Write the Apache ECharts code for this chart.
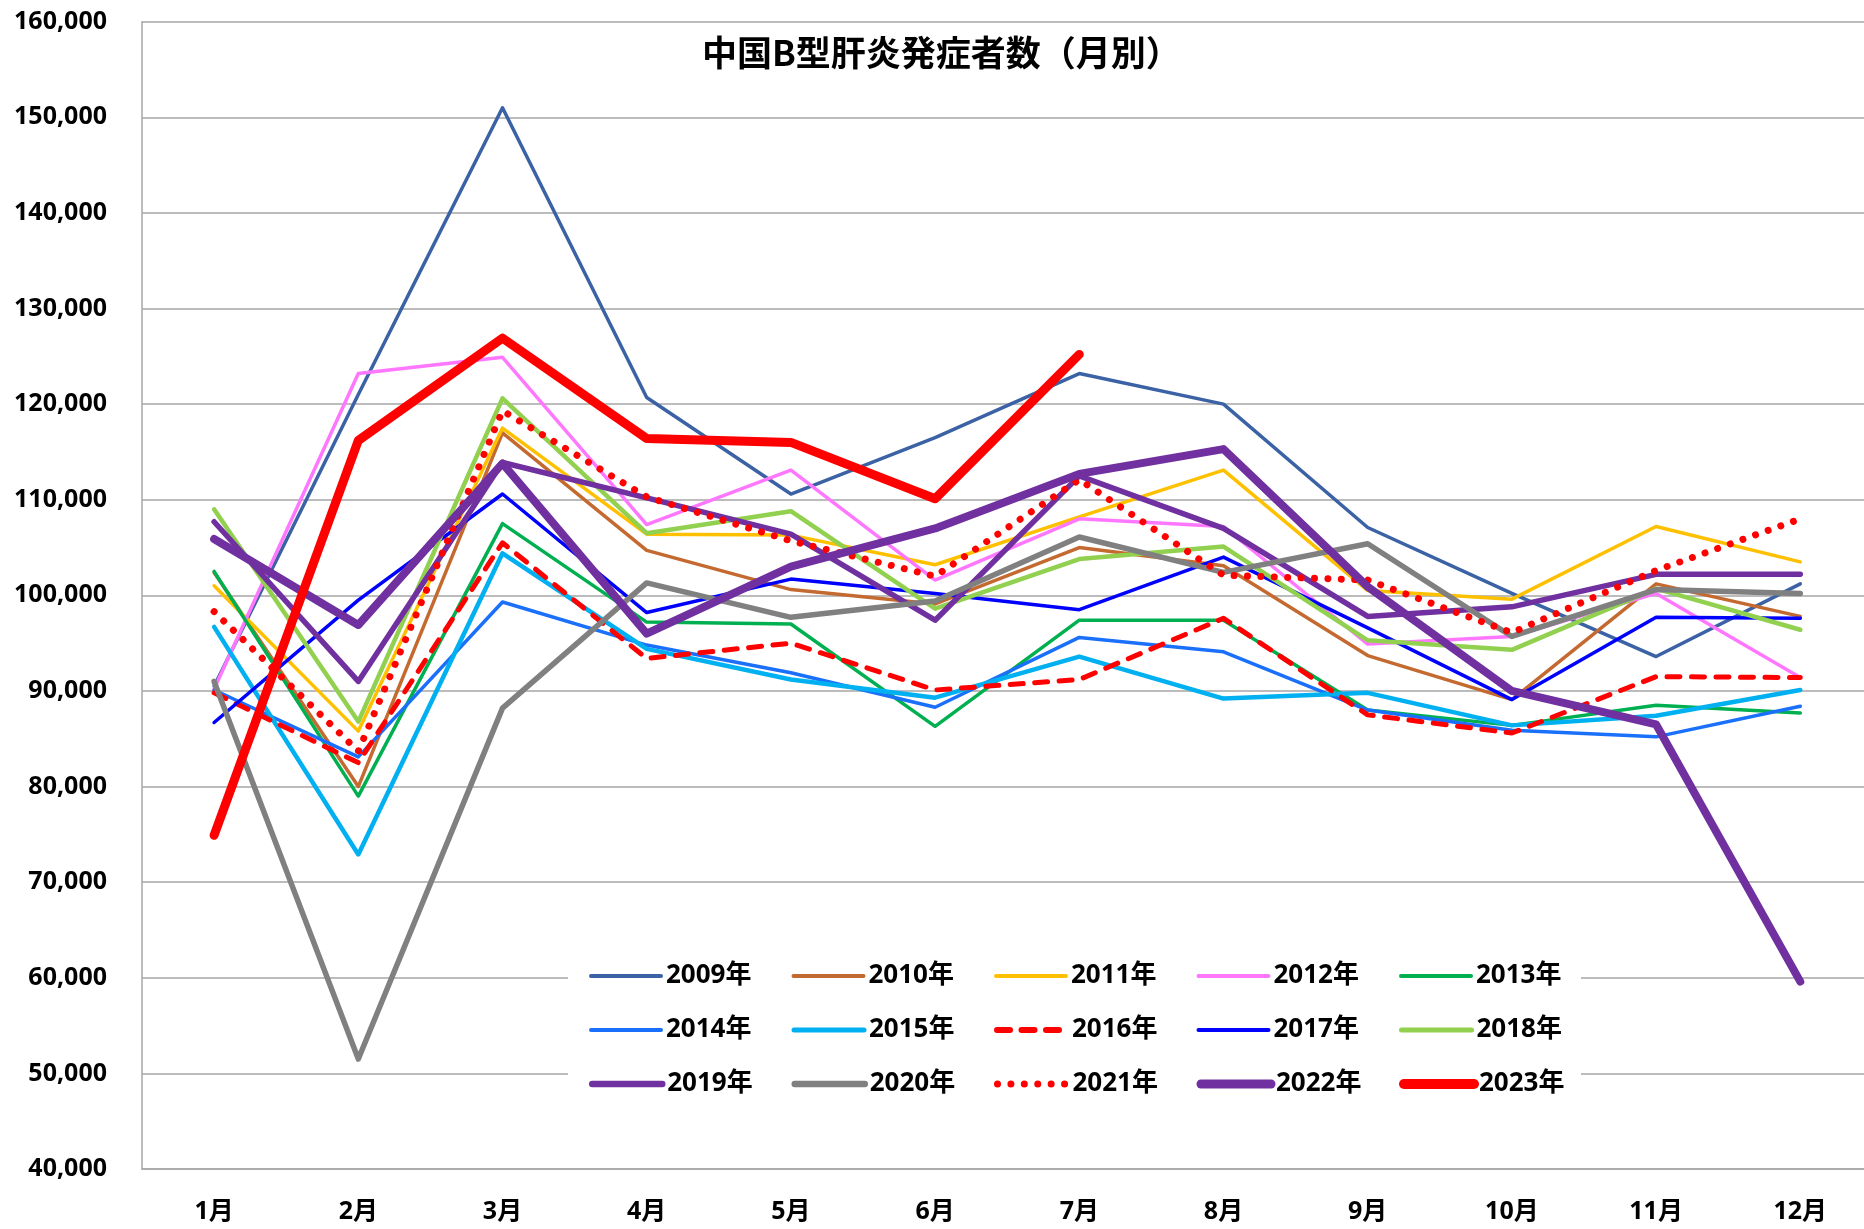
<!DOCTYPE html>
<html><head><meta charset="utf-8">
<script src="https://cdn.jsdelivr.net/npm/echarts@6/dist/echarts.min.js"></script>
<style>html,body{margin:0;padding:0;background:#fff}#c{width:1864px;height:1229px}</style>
</head><body><div id="c"></div>
<script>
const months = ['1月','2月','3月','4月','5月','6月','7月','8月','9月','10月','11月','12月'];
const years = ['2009年','2010年','2011年','2012年','2013年','2014年','2015年','2016年','2017年','2018年','2019年','2020年','2021年','2022年','2023年'];
const y2009 = [90500,121000,151000,120700,110600,116500,123200,120000,107100,100200,93600,101200];
const y2010 = [102400,80000,117000,104700,100600,99100,105000,103100,93700,89100,101200,97800];
const y2011 = [101000,85800,117500,106400,106300,103200,108200,113100,100500,99600,107200,103500];
const y2012 = [90200,123200,124900,107400,113100,101600,108000,107200,94900,95700,100200,91400];
const y2013 = [102500,79000,107500,97200,97000,86300,97400,97400,88000,86400,88500,87700];
const y2014 = [90100,83100,99300,94800,91900,88300,95600,94100,88000,85900,85200,88400];
const y2015 = [96700,72900,104400,94400,91200,89300,93600,89200,89800,86400,87400,90100];
const y2016 = [89800,82500,105500,93400,95000,90100,91200,97600,87500,85600,91500,91400];
const y2017 = [86700,99500,110600,98200,101700,100200,98500,104000,96600,89100,97700,97600];
const y2018 = [109000,86800,120600,106500,108800,98600,103800,105100,95300,94300,100700,96400];
const y2019 = [107700,91000,113900,110200,106400,97400,112500,107000,97800,98800,102200,102200];
const y2020 = [91000,51500,88200,101300,97700,99400,106100,102400,105400,95700,100600,100200];
const y2021 = [98300,83700,119300,110300,105700,102000,112100,102100,101600,96100,102600,108000];
const y2022 = [105900,96900,113800,96000,103000,107000,112700,115300,100900,90000,86500,59600];
const y2023 = [74900,116200,126900,116400,116000,110100,125200];
const yTicks = [40000,50000,60000,70000,80000,90000,100000,110000,120000,130000,140000,150000,160000];

const allData = [y2009,y2010,y2011,y2012,y2013,y2014,y2015,y2016,y2017,y2018,y2019,y2020,y2021,y2022,y2023];
const colors = ['#3B62A4','#C46A30','#FFC000','#FF77FF','#00B050','#1A70FA','#00B0F0','#FF0000','#0000FF','#92D050','#7030A0','#808080','#FF0000','#7030A0','#FF0000'];
const widths = [3.5,3.5,3.5,3.5,3.5,3.5,4.5,5,3.5,4.5,5.5,5.5,7,8,9];
const legendWidths = [4,4,4,4,4,4,5,6,4,5,6.5,6.5,7,9,10];
const types = ['solid','solid','solid','solid','solid','solid','solid',[13,11.5],'solid','solid','solid','solid',[0.01,13.4],'solid','solid'];

// month positions on a numeric x axis: month k sits at k (1..12); the plot spans 0.5 .. 12.44
const monthPos = months.map((m,k)=>k+1);
const GRID_LEFT = 142, GRID_W = 1722, CAT_W = 144.2;
const xMax = 0.5 + GRID_W / CAT_W;

const FONT = "'Noto Sans','Noto Sans CJK JP',sans-serif";
const series = years.map((n,i)=>({
  name:n, type:'line', data:allData[i].map((v,k)=>[monthPos[k], v]), symbol:'none', smooth:false,
  lineStyle:{color:colors[i], width:widths[i], type:types[i], cap:'round', join:'round'},
  itemStyle:{color:colors[i]},
  emphasis:{disabled:true}, animation:false
}));

const rowCenters = [976, 1030, 1084];
const legends = years.map((n,i)=>{
  const r = Math.floor(i/5), c = i%5;
  return {
    data:[{name:n, lineStyle:{width:legendWidths[i], color:colors[i], type:types[i], cap:'round'}}],
    left:589 + 202.5*c, top:rowCenters[r]-15, orient:'horizontal', padding:0,
    itemWidth:70, itemHeight:14, z:5,
    itemStyle:{color:'rgba(0,0,0,0)', borderWidth:0, opacity:0},
    textStyle:{fontFamily:FONT, fontWeight:'bold', fontSize:26, color:'#000', lineHeight:30},
    selectedMode:false
  };
});

const chart = echarts.init(document.getElementById('c'));
chart.setOption({
  backgroundColor:'#fff',
  animation:false,
  title:{text:'中国B型肝炎発症者数（月別）', left:702, top:35, padding:0,
    textStyle:{fontFamily:"'Noto Sans CJK JP',sans-serif", fontWeight:'bold', fontSize:35, color:'#000'}},
  graphic:[{type:'rect', z:3, silent:true, shape:{x:568, y:949, width:1013, height:162}, style:{fill:'#fff'}}],
  legend:legends,
  grid:{left:GRID_LEFT, top:21.7, width:GRID_W, height:1147.3, containLabel:false},
  xAxis:{type:'value', min:0.5, max:xMax,
    splitLine:{show:false},
    axisLine:{lineStyle:{color:'#A6A6A6', width:1.5}}, axisTick:{show:false},
    axisLabel:{fontFamily:FONT, fontWeight:'bold', fontSize:25, color:'#000', margin:30,
      customValues:monthPos, showMinLabel:true, showMaxLabel:true,
      formatter:v=>months[Math.round(v)-1] || ''}},
  yAxis:{type:'value', min:yTicks[0], max:yTicks[yTicks.length-1], interval:10000,
    axisLine:{show:true, lineStyle:{color:'#A6A6A6', width:1.5}}, axisTick:{show:false},
    splitLine:{lineStyle:{color:'#A6A6A6', width:1.5}},
    axisLabel:{fontFamily:FONT, fontWeight:'bold', fontSize:25, color:'#000', margin:35,
      formatter:v=>v.toLocaleString('en-US')}},
  series:series
});
</script></body></html>
